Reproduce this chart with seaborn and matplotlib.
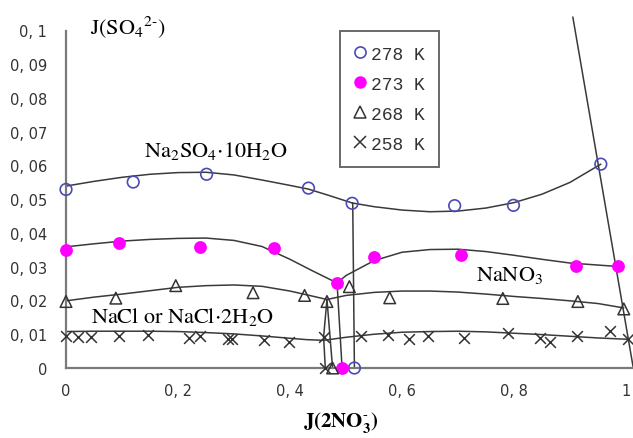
import matplotlib
matplotlib.use("Agg")
import matplotlib.pyplot as plt
import matplotlib.transforms as mtransforms
from matplotlib.lines import Line2D
import seaborn as sns
import pandas as pd

# ---------------- data ----------------
# measured points (last entry of each series lies on the x axis)
p278_x = [0, 0.12, 0.251, 0.433, 0.511, 0.694, 0.799, 0.955, 0.515]
p278_y = [0.0529, 0.0551, 0.0574, 0.0533, 0.0488, 0.0481, 0.0482, 0.0604, 0.0]
p273_x = [0, 0.095, 0.239, 0.371, 0.484, 0.55, 0.705, 0.911, 0.985, 0.493]
p273_y = [0.035, 0.0369, 0.0358, 0.0356, 0.0252, 0.0330, 0.0335, 0.0302, 0.0302, 0.0]
p268_x = [0, 0.089, 0.196, 0.334, 0.426, 0.466, 0.506, 0.578, 0.780, 0.914, 0.996, 0.476]
p268_y = [0.0197, 0.0207, 0.0244, 0.0223, 0.0215, 0.0197, 0.0241, 0.0208, 0.0206, 0.0197, 0.0175, 0.0]
p258_x = [0, 0.021, 0.045, 0.094, 0.146, 0.219, 0.24, 0.289, 0.296, 0.353, 0.398, 0.46,
          0.527, 0.575, 0.612, 0.646, 0.711, 0.79, 0.846, 0.865, 0.912, 0.972, 1.004, 0.463]
p258_y = [0.0096, 0.0091, 0.0091, 0.0096, 0.0099, 0.0088, 0.0096, 0.0086, 0.0086, 0.0084, 0.0078, 0.0093,
          0.0095, 0.0099, 0.0087, 0.0096, 0.0088, 0.0103, 0.0088, 0.0076, 0.0096, 0.0109, 0.0086, 0.0]

# fitted solubility curves
c278a_x = [0, 0.05, 0.1, 0.15, 0.2, 0.25, 0.3, 0.35, 0.4, 0.433, 0.47, 0.511]
c278a_y = [0.0539, 0.0553, 0.0565, 0.0574, 0.0579, 0.0580, 0.0572, 0.0557, 0.0541, 0.0530, 0.0511, 0.0489]
c278b_x = [0.511, 0.55, 0.6, 0.65, 0.7, 0.75, 0.8, 0.85, 0.9, 0.955]
c278b_y = [0.0489, 0.0478, 0.0468, 0.0463, 0.0465, 0.0474, 0.0490, 0.0515, 0.0550, 0.0604]
c278v_x = [0.512, 0.515]
c278v_y = [0.0489, 0.0]

c273a_x = [0, 0.05, 0.1, 0.15, 0.2, 0.25, 0.3, 0.35, 0.4, 0.44, 0.484]
c273a_y = [0.0359, 0.0368, 0.0376, 0.0381, 0.0384, 0.0385, 0.0378, 0.0360, 0.0322, 0.0288, 0.0252]
c273b_x = [0.484, 0.5, 0.55, 0.6, 0.65, 0.7, 0.75, 0.8, 0.85, 0.9, 0.95, 0.984]
c273b_y = [0.0252, 0.0274, 0.0318, 0.0343, 0.0351, 0.0352, 0.0345, 0.0334, 0.0322, 0.0311, 0.0305, 0.0301]
c273v_x = [0.484, 0.493]
c273v_y = [0.0252, 0.0]

c268a_x = [0, 0.05, 0.1, 0.15, 0.2, 0.25, 0.3, 0.35, 0.4, 0.44, 0.466]
c268a_y = [0.0199, 0.0210, 0.0219, 0.0229, 0.0239, 0.0244, 0.0246, 0.0242, 0.0228, 0.0213, 0.0203]
c268b_x = [0.466, 0.5, 0.55, 0.6, 0.65, 0.7, 0.75, 0.8, 0.85, 0.9, 0.95, 0.996]
c268b_y = [0.0203, 0.0215, 0.0224, 0.0228, 0.0228, 0.0225, 0.0219, 0.0212, 0.0206, 0.0199, 0.0191, 0.0178]
c268v_x = [0.466, 0.476]
c268v_y = [0.0203, 0.0]
c268w_x = [0.466, 0.46, 0.463]
c268w_y = [0.0203, 0.0092, 0.0]

c258a_x = [0, 0.05, 0.1, 0.15, 0.2, 0.25, 0.3, 0.35, 0.4, 0.43, 0.46]
c258a_y = [0.0108, 0.0109, 0.0109, 0.0109, 0.0108, 0.0105, 0.0101, 0.0095, 0.0088, 0.0084, 0.0082]
c258b_x = [0.46, 0.5, 0.55, 0.6, 0.65, 0.7, 0.75, 0.8, 0.85, 0.9, 0.95, 1.004]
c258b_y = [0.0082, 0.0091, 0.0100, 0.0106, 0.0108, 0.0109, 0.0107, 0.0103, 0.0099, 0.0094, 0.0089, 0.0085]

edge_x = [0.905, 1.013]
edge_y = [0.104, 0.0]

legend_labels = ["278 K", "273 K", "268 K", "258 K"]
x_ticks = [0, 0.2, 0.4, 0.6, 0.8, 1.0]
x_tick_labels = ["0", "0, 2", "0, 4", "0, 6", "0, 8", "1"]
y_ticks = [0, 0.01, 0.02, 0.03, 0.04, 0.05, 0.06, 0.07, 0.08, 0.09, 0.1]
y_tick_labels = ["0", "0, 01", "0, 02", "0, 03", "0, 04", "0, 05", "0, 06", "0, 07", "0, 08", "0, 09", "0, 1"]

# ---------------- drawing ----------------
sns.set_style("white")
plt.rcParams["mathtext.fontset"] = "stix"
plt.rcParams["font.family"] = ["DejaVu Sans"]

fig = plt.figure(figsize=(6.33, 4.39), dpi=100)
ax = fig.add_axes([66 / 633, 70 / 439, 567.3 / 633, 337.5 / 439])

line_col = "#3a3a3a"
curves = [(c278a_x, c278a_y), (c278b_x, c278b_y), (c278v_x, c278v_y),
          (c273a_x, c273a_y), (c273b_x, c273b_y), (c273v_x, c273v_y),
          (c268a_x, c268a_y), (c268b_x, c268b_y), (c268v_x, c268v_y), (c268w_x, c268w_y),
          (c258a_x, c258a_y), (c258b_x, c258b_y), (edge_x, edge_y)]
for cx, cy in curves:
    df = pd.DataFrame({"x": cx, "y": cy})
    sns.lineplot(data=df, x="x", y="y", sort=False, estimator=None, color=line_col,
                 lw=1.1, ax=ax, legend=False)
for ln in ax.lines:
    ln.set_clip_on(False)

blue = "#4a4ab8"
mag = "#ff00ff"
dark = "#333333"
sns.scatterplot(x=p278_x, y=p278_y, ax=ax, marker="o", s=70, facecolor="none",
                edgecolor=blue, linewidth=1.2, zorder=5)
sns.scatterplot(x=p273_x, y=p273_y, ax=ax, marker="o", s=85, color=mag,
                edgecolor=mag, linewidth=0, zorder=5)
sns.scatterplot(x=p268_x, y=p268_y, ax=ax, marker="^", s=70, facecolor="none",
                edgecolor=dark, linewidth=1.1, zorder=5)
sns.scatterplot(x=p258_x, y=p258_y, ax=ax, marker="x", s=60, color=dark,
                linewidth=1.1, zorder=5)
for c in ax.collections:
    c.set_clip_on(False)

ax.set_xlim(0, 1.013)
ax.set_ylim(0, 0.1)
ax.set_xlabel("")
ax.set_ylabel("")

for s in ["top", "right"]:
    ax.spines[s].set_visible(False)
for s in ["left", "bottom"]:
    ax.spines[s].set_color("#7a7a7a")
    ax.spines[s].set_linewidth(1.6)

ax.set_xticks(x_ticks)
ax.set_xticklabels(x_tick_labels)
ax.set_yticks(y_ticks)
ax.set_yticklabels(y_tick_labels)
ax.tick_params(axis="both", direction="inout", length=9, width=1.2, color="#555555",
               labelcolor="#333333", labelsize=10.5)
ax.tick_params(axis="x", pad=6)
ax.tick_params(axis="y", pad=9)

# annotations
tkw = dict(fontsize=16, color="black", ha="left", va="baseline")
ax.text(0.043, 0.0992, r"$\mathrm{J(SO_4{}^{2\text{-}})}$", **tkw)
ax.text(0.14, 0.0627, r"$\mathrm{Na_2SO_4{\cdot}10H_2O}$", **tkw)
ax.text(0.732, 0.0261, r"$\mathrm{NaNO_3}$", **tkw)
ax.text(0.045, 0.0135, r"$\mathrm{NaCl\ or\ NaCl{\cdot}2H_2O}$", **tkw)
trans = mtransforms.blended_transform_factory(ax.transData, ax.transAxes)
ax.text(0.4916, -0.172, r"$\mathbf{J(2NO_3^{\text{-}})}$", transform=trans, fontsize=15,
        ha="center", va="baseline", color="black")

# legend
handles = [
    Line2D([], [], ls="none", marker="o", ms=8, mfc="none", mec=blue, mew=1.2),
    Line2D([], [], ls="none", marker="o", ms=9, mfc=mag, mec=mag, mew=0),
    Line2D([], [], ls="none", marker="^", ms=8, mfc="none", mec=dark, mew=1.1),
    Line2D([], [], ls="none", marker="x", ms=8, mec=dark, mew=1.1),
]
leg = ax.legend(handles, legend_labels, loc="upper left", bbox_to_anchor=(0.483, 0.998),
                borderaxespad=0, frameon=True, fancybox=False, handlelength=0.6,
                handletextpad=0.3, borderpad=0.8, labelspacing=0.72,
                prop={"family": "Liberation Mono", "size": 13})
leg.get_frame().set_edgecolor("#444444")
leg.get_frame().set_linewidth(1.4)
for t in leg.get_texts():
    t.set_color("#333333")

fig.savefig("out.png", dpi=100, facecolor="white")
